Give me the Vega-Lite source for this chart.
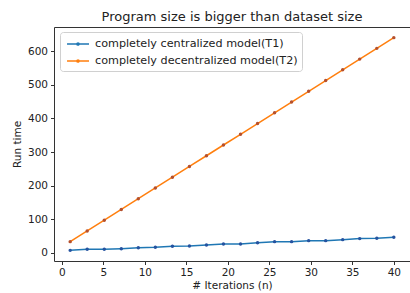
{
  "$schema": "https://vega.github.io/schema/vega-lite/v6.json",
  "width": 356,
  "height": 234,
  "autosize": "none",
  "padding": {"left": 54, "top": 27, "right": 0, "bottom": 32},
  "background": "white",
  "title": {"text": "Program size is bigger than dataset size", "fontSize": 13, "fontWeight": "normal", "font": "DejaVu Sans", "color": "#222", "offset": 3, "anchor": "middle"},
  "config": {
    "view": {"stroke": "#333", "strokeWidth": 1},
    "axis": {"domain": false, "grid": false, "tickColor": "#333", "tickSize": 3.5, "labelFont": "DejaVu Sans", "labelFontSize": 10.5, "labelColor": "#222", "titleFont": "DejaVu Sans", "titleFontSize": 10.5, "titleFontWeight": "normal", "titleColor": "#222", "labelPadding": 3}
  },
  "data": {"values": [
    {"n": 1, "time": 7, "model": "completely centralized model(T1)"},
    {"n": 3.05, "time": 10, "model": "completely centralized model(T1)"},
    {"n": 5.11, "time": 10, "model": "completely centralized model(T1)"},
    {"n": 7.16, "time": 12, "model": "completely centralized model(T1)"},
    {"n": 9.21, "time": 15, "model": "completely centralized model(T1)"},
    {"n": 11.26, "time": 16, "model": "completely centralized model(T1)"},
    {"n": 13.32, "time": 19, "model": "completely centralized model(T1)"},
    {"n": 15.37, "time": 20, "model": "completely centralized model(T1)"},
    {"n": 17.42, "time": 23, "model": "completely centralized model(T1)"},
    {"n": 19.47, "time": 26, "model": "completely centralized model(T1)"},
    {"n": 21.53, "time": 26, "model": "completely centralized model(T1)"},
    {"n": 23.58, "time": 30, "model": "completely centralized model(T1)"},
    {"n": 25.63, "time": 33, "model": "completely centralized model(T1)"},
    {"n": 27.68, "time": 33, "model": "completely centralized model(T1)"},
    {"n": 29.74, "time": 36, "model": "completely centralized model(T1)"},
    {"n": 31.79, "time": 36, "model": "completely centralized model(T1)"},
    {"n": 33.84, "time": 39, "model": "completely centralized model(T1)"},
    {"n": 35.89, "time": 42, "model": "completely centralized model(T1)"},
    {"n": 37.95, "time": 43, "model": "completely centralized model(T1)"},
    {"n": 40, "time": 46, "model": "completely centralized model(T1)"},
    {"n": 1, "time": 33, "model": "completely decentralized model(T2)"},
    {"n": 3.05, "time": 65, "model": "completely decentralized model(T2)"},
    {"n": 5.11, "time": 97, "model": "completely decentralized model(T2)"},
    {"n": 7.16, "time": 129, "model": "completely decentralized model(T2)"},
    {"n": 9.21, "time": 161, "model": "completely decentralized model(T2)"},
    {"n": 11.26, "time": 193, "model": "completely decentralized model(T2)"},
    {"n": 13.32, "time": 225, "model": "completely decentralized model(T2)"},
    {"n": 15.37, "time": 257, "model": "completely decentralized model(T2)"},
    {"n": 17.42, "time": 289, "model": "completely decentralized model(T2)"},
    {"n": 19.47, "time": 321, "model": "completely decentralized model(T2)"},
    {"n": 21.53, "time": 353, "model": "completely decentralized model(T2)"},
    {"n": 23.58, "time": 385, "model": "completely decentralized model(T2)"},
    {"n": 25.63, "time": 417, "model": "completely decentralized model(T2)"},
    {"n": 27.68, "time": 449, "model": "completely decentralized model(T2)"},
    {"n": 29.74, "time": 481, "model": "completely decentralized model(T2)"},
    {"n": 31.79, "time": 513, "model": "completely decentralized model(T2)"},
    {"n": 33.84, "time": 545, "model": "completely decentralized model(T2)"},
    {"n": 35.89, "time": 577, "model": "completely decentralized model(T2)"},
    {"n": 37.95, "time": 609, "model": "completely decentralized model(T2)"},
    {"n": 40, "time": 641, "model": "completely decentralized model(T2)"}
  ]},
  "encoding": {
    "x": {"field": "n", "type": "quantitative", "scale": {"domain": [-0.95, 41.95], "nice": false, "zero": false}, "axis": {"values": [0, 5, 10, 15, 20, 25, 30, 35, 40], "title": "# Iterations (n)", "titlePadding": 2}},
    "y": {"field": "time", "type": "quantitative", "scale": {"domain": [-24.7, 672.7], "nice": false, "zero": false}, "axis": {"values": [0, 100, 200, 300, 400, 500, 600], "title": "Run time", "titlePadding": 5}}
  },
  "layer": [
    {
      "mark": {"type": "line", "strokeWidth": 1.5},
      "encoding": {
        "stroke": {"field": "model", "type": "nominal", "scale": {"domain": ["completely centralized model(T1)", "completely decentralized model(T2)"], "range": ["#1f77b4", "#ff7f0e"]},
          "legend": {"orient": "none", "legendX": 6, "legendY": 5, "title": null, "fillColor": "rgba(255,255,255,0.85)", "strokeColor": "#d0d0d0", "cornerRadius": 3, "padding": 4, "symbolType": "M-0.71,0H2.43M0.7,0A0.16,0.16,0,1,1,1.02,0A0.16,0.16,0,1,1,0.7,0", "symbolSize": 196, "symbolStrokeWidth": 1.5, "labelFont": "DejaVu Sans", "labelFontSize": 11.2, "labelColor": "#222", "labelLimit": 0, "rowPadding": 3, "labelOffset": 15}}
      }
    },
    {
      "mark": {"type": "point", "filled": true, "size": 12, "opacity": 1},
      "encoding": {
        "fill": {"field": "model", "type": "nominal", "scale": {"domain": ["completely centralized model(T1)", "completely decentralized model(T2)"], "range": ["#2553a0", "#b5502d"]}, "legend": null}
      }
    }
  ]
}
